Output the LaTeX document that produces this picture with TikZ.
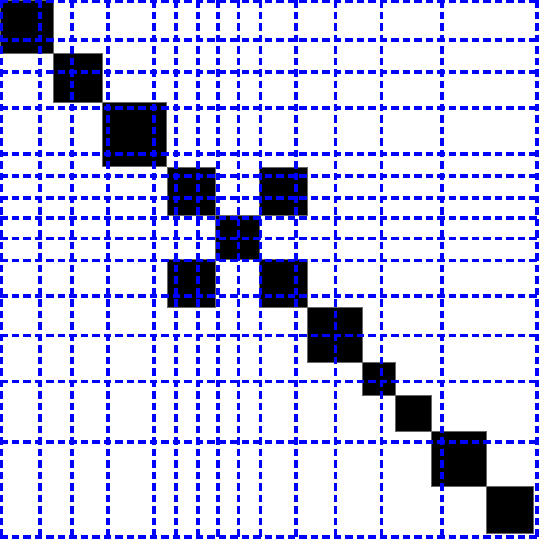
\documentclass[tikz,border=0pt]{standalone}
\begin{document}
\begin{tikzpicture}[x=1pt,y=-1pt,
  blockcell/.style={fill=black,draw=black!60,line width=0.8pt},
  gridline/.style={draw=blue,line width=3.6pt,dash pattern=on 7.5pt off 4pt}]
\useasboundingbox (0,0) rectangle (539,539);
% diagonal blocks
\foreach \a/\b in {0/53,53/102,102/166.5,215/259,307/362,362/395,395/431,431/486,486/533}
  \fill[blockcell] (\a,\a) rectangle (\b,\b);
% coupled 2x2 block pattern
\foreach \r/\s in {167/215,259/307}
  \foreach \c/\d in {167/215,259/307}
    \fill[blockcell] (\c,\r) rectangle (\d,\s);
% dashed grid
\foreach \p in {1,40,72,108,154,176,198,218,238.5,260.5,296,335.5,381.5,442,537}{
  \draw[gridline] (\p,0) -- (\p,539);
  \draw[gridline] (0,\p) -- (539,\p);
}
\end{tikzpicture}
\end{document}
